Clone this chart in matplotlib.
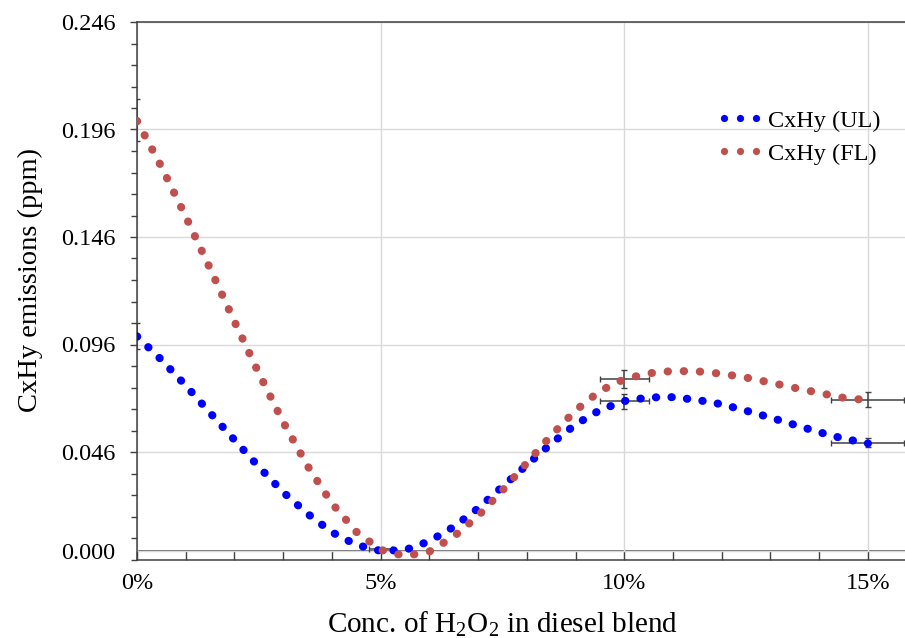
import matplotlib
matplotlib.use("Agg")
import matplotlib.pyplot as plt
from matplotlib.lines import Line2D
from matplotlib.ticker import FixedLocator, FuncFormatter

# H2O2 concentration (fraction) and CxHy emissions
conc = [0.000, 0.005, 0.010, 0.015, 0.020, 0.025, 0.030, 0.035, 0.040, 0.045,
        0.050, 0.055, 0.060, 0.065, 0.070, 0.075, 0.080, 0.085, 0.090, 0.095,
        0.100, 0.105, 0.110, 0.115, 0.120, 0.125, 0.130, 0.135, 0.140, 0.145,
        0.150]
cxhy_ul = [0.0998, 0.0889, 0.0769, 0.0642, 0.0516, 0.0391, 0.0273, 0.0173, 0.0087, 0.0028,
           0.0000, 0.0004, 0.0045, 0.0112, 0.0198, 0.0299, 0.0400, 0.0499, 0.0588, 0.0655,
           0.0697, 0.0714, 0.0715, 0.0702, 0.0682, 0.0652, 0.0620, 0.0586, 0.0552, 0.0522,
           0.0500]
cxhy_fl = [0.2000, 0.1787, 0.1555, 0.1313, 0.1067, 0.0826, 0.0599, 0.0395, 0.0221, 0.0089,
           0.0005, -0.0024, -0.0003, 0.0067, 0.0163, 0.0282, 0.0409, 0.0537, 0.0653, 0.0744,
           0.0799, 0.0826, 0.0837, 0.0835, 0.0824, 0.0806, 0.0783, 0.0758, 0.0735, 0.0712,
           0.0701]

# error bars
err_x = [0.000, 0.000, 0.050, 0.100, 0.100, 0.150, 0.150]
err_y = [0.0998, 0.2005, 0.0007, 0.0695, 0.0800, 0.0504, 0.0702]
err_dx = [0.0, 0.0, 0.0024, 0.005, 0.005, 0.0075, 0.0075]
err_dy = [0.006, 0.0098, 0.0, 0.0035, 0.0042, 0.002, 0.0035]

labels = ['CxHy (UL)', 'CxHy (FL)']
colors = ['#0000ff', '#c0504d']
y_major = [0.0, 0.046, 0.096, 0.146, 0.196, 0.246]
x_major = [0.0, 0.05, 0.10, 0.15]

plt.rcParams['font.family'] = ['Liberation Serif', 'DejaVu Serif']
plt.rcParams['mathtext.fontset'] = 'custom'
plt.rcParams['mathtext.rm'] = 'Liberation Serif'

dark = '#404040'
fig = plt.figure(figsize=(9.05, 6.38), dpi=100)
ax = fig.add_axes([137 / 905, (638 - 559.5) / 638, 768 / 905, 537.5 / 638])
ax.set_xlim(0, 768 / 4873)
ax.set_ylim(-0.004, 0.246)

ax.grid(which='major', color='#d9d9d9', lw=1.0, zorder=0)
ax.axhline(0, color=dark, lw=1.1, zorder=1.5)

ax.errorbar(err_x, err_y, xerr=err_dx, yerr=err_dy, fmt='none', ecolor=dark,
            elinewidth=1.1, capsize=2.4, capthick=1.0, zorder=2)

lw = 5.8
ax.plot(conc, cxhy_ul, color=colors[0], lw=lw, linestyle=(0, (0.05, 11.2 / lw - 0.05)),
        dash_capstyle='round', zorder=3)
ax.plot(conc, cxhy_fl, color=colors[1], lw=lw, linestyle=(0, (0.05, 11.6 / lw - 0.05)),
        dash_capstyle='round', zorder=3)

for s in ['top', 'left', 'bottom']:
    ax.spines[s].set_color(dark)
    ax.spines[s].set_linewidth(1.1)
ax.spines['right'].set_visible(False)

ax.yaxis.set_major_locator(FixedLocator(y_major))
ax.yaxis.set_minor_locator(FixedLocator([round(-0.004 + 0.01 * k, 3) for k in range(26)
                                         if round(-0.004 + 0.01 * k, 3) not in y_major]))
ax.yaxis.set_major_formatter(FuncFormatter(lambda v, p: '%.3f' % v))
ax.xaxis.set_major_locator(FixedLocator(x_major))
ax.xaxis.set_minor_locator(FixedLocator([k / 100 for k in range(16)]))
ax.xaxis.set_major_formatter(FuncFormatter(lambda v, p: '%d%%' % round(v * 100)))

ax.tick_params(axis='y', which='major', direction='out', length=5, width=1, color=dark,
               labelsize=17.5, pad=10.5)
ax.tick_params(axis='y', which='minor', direction='out', length=4.2, width=1, color=dark)
ax.tick_params(axis='x', which='both', direction='in', length=6.5, width=1, color=dark,
               labelsize=17.5, pad=9.5)
ax.yaxis.get_major_ticks()[0].tick1line.set_visible(False)

ax.set_xlabel('Conc. of H$_2$O$_2$ in diesel blend', fontsize=21)
ax.set_ylabel('CxHy emissions (ppm)', fontsize=20.5)
ax.xaxis.set_label_coords((502.5 - 137) / 768, -0.092)
ax.yaxis.set_label_coords(-0.122, 0.52)

handles = [Line2D([], [], color=c, marker='o', linestyle='none', markersize=5.2,
                  markeredgewidth=0) for c in colors]
leg = ax.legend(handles, labels, loc='upper left', bbox_to_anchor=(0.755, 0.837),
                frameon=False, fontsize=17.5, numpoints=3, handlelength=1.92,
                handletextpad=0.2, labelspacing=0.46, borderpad=0, borderaxespad=0)

fig.savefig('out.png', dpi=100)
